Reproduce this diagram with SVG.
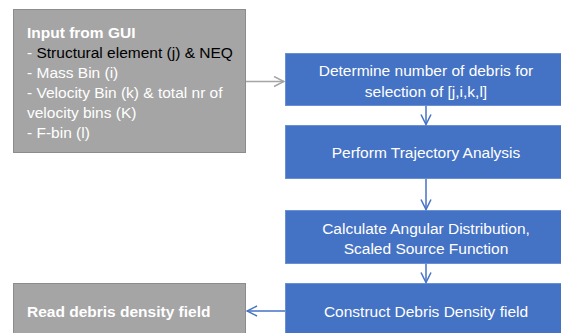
<svg xmlns="http://www.w3.org/2000/svg" width="561" height="333" viewBox="0 0 561 333">
<defs>
<style>
.gray{fill:#A5A5A5;stroke:#8C8C8C;stroke-width:1}
.blue{fill:#4472C4;stroke:#6A8FD3;stroke-width:1}
text{font-family:"Liberation Sans",Arial,sans-serif;font-size:15.5px;fill:#fff}
.c{text-anchor:middle}
.b{font-weight:bold}
.k{fill:#000}
.cb{fill:none;stroke:#4472C4;stroke-width:1.5}
.cg{fill:none;stroke:#A5A5A5;stroke-width:1.5}
</style>
<marker id="ab" viewBox="0 0 12 12" refX="11" refY="6" markerWidth="12" markerHeight="12" markerUnits="userSpaceOnUse" orient="auto">
<path d="M1,1 L11,6 L1,11" fill="none" stroke="#4472C4" stroke-width="1.5"/>
</marker>
<marker id="ag" viewBox="0 0 12 12" refX="11" refY="6" markerWidth="12" markerHeight="12" markerUnits="userSpaceOnUse" orient="auto">
<path d="M1,1 L11,6 L1,11" fill="none" stroke="#A5A5A5" stroke-width="1.5"/>
</marker>
</defs>
<g id="input">
<rect class="gray" x="13.5" y="9.5" width="232" height="143"/>
<text x="27" y="38" class="b">Input from GUI</text>
<text x="27" y="58">- <tspan class="k">Structural element (j) &amp; NEQ</tspan></text>
<text x="27" y="78">- Mass Bin (i)</text>
<text x="27" y="98">- Velocity Bin (k) &amp; total nr of</text>
<text x="27" y="118">velocity bins (K)</text>
<text x="27" y="138">- F-bin (l)</text>
</g>
<g id="determine">
<rect class="blue" x="285.5" y="53.5" width="290" height="52"/>
<text x="426" y="76" class="c">Determine number of debris for</text>
<text x="426" y="97" class="c">selection of [j,i,k,l]</text>
</g>
<g id="trajectory">
<rect class="blue" x="285.5" y="125.5" width="290" height="53"/>
<text x="426" y="158" class="c">Perform Trajectory Analysis</text>
</g>
<g id="angular">
<rect class="blue" x="285.5" y="210.5" width="290" height="53"/>
<text x="426" y="234" class="c">Calculate Angular Distribution,</text>
<text x="426" y="254" class="c">Scaled Source Function</text>
</g>
<g id="construct">
<rect class="blue" x="285.5" y="283.5" width="290" height="60"/>
<text x="426" y="317" class="c">Construct Debris Density field</text>
</g>
<g id="read">
<rect class="gray" x="13.5" y="283.5" width="232" height="60"/>
<text x="27" y="317" class="b">Read debris density field</text>
</g>
<g id="connectors">
<line class="cg" x1="246" y1="81.5" x2="284" y2="81.5" marker-end="url(#ag)"/>
<line class="cb" x1="426" y1="106" x2="426" y2="124.5" marker-end="url(#ab)"/>
<line class="cb" x1="426" y1="179" x2="426" y2="209.5" marker-end="url(#ab)"/>
<line class="cb" x1="426" y1="264" x2="426" y2="282.5" marker-end="url(#ab)"/>
<line class="cb" x1="285" y1="311" x2="247" y2="311" marker-end="url(#ab)"/>
</g>
</svg>
